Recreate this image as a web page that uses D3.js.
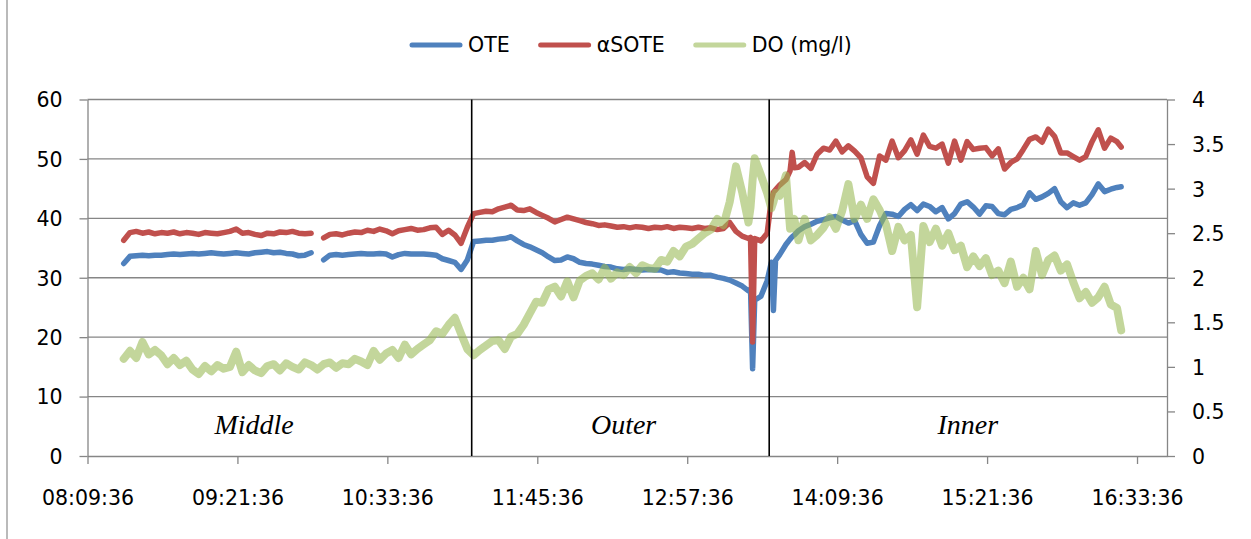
<!DOCTYPE html>
<html>
<head>
<meta charset="utf-8">
<script src="https://cdn.jsdelivr.net/npm/d3@7"></script>
<style>
  html, body { margin: 0; padding: 0; background: #ffffff; }
  svg { display: block; }
  text { font-family: "DejaVu Sans", sans-serif; fill: #000; }
</style>
</head>
<body>
<svg id="chart" width="1251" height="539"></svg>
<script>
// Logged samples (clock time)
const times = [
  "08:27","08:30","08:33","08:36","08:39","08:42","08:45","08:48","08:51","08:54",
  "08:57","09:00","09:03","09:06","09:09","09:12","09:15","09:18","09:21","09:24",
  "09:27","09:30","09:33","09:36","09:39","09:42","09:45","09:48","09:51","09:54",
  "09:57","10:00","10:03","10:06","10:09","10:12","10:15","10:18","10:21","10:24",
  "10:27","10:30","10:33","10:36","10:39","10:42","10:45","10:48","10:51","10:54",
  "10:57","11:00","11:03","11:06","11:09","11:12","11:15","11:18","11:21","11:24",
  "11:27","11:30","11:33","11:36","11:39","11:42","11:45","11:48","11:51","11:54",
  "11:57","12:00","12:03","12:06","12:09","12:12","12:15","12:18","12:21","12:24",
  "12:27","12:30","12:33","12:36","12:39","12:42","12:45","12:48","12:51","12:54",
  "12:57","13:00","13:03","13:06","13:09","13:12","13:15","13:18","13:21","13:24",
  "13:27","13:28","13:29","13:30","13:33","13:36","13:38","13:39","13:40","13:42",
  "13:45","13:47","13:48","13:49","13:51","13:54","13:57","14:00","14:03","14:06",
  "14:09","14:12","14:15","14:18","14:21","14:24","14:27","14:30","14:33","14:36",
  "14:39","14:42","14:45","14:48","14:51","14:54","14:57","15:00","15:03","15:06",
  "15:09","15:12","15:15","15:18","15:21","15:24","15:27","15:30","15:33","15:36",
  "15:39","15:42","15:45","15:48","15:51","15:54","15:57","16:00","16:03","16:06",
  "16:09","16:12","16:15","16:18","16:21","16:24","16:26"
];

// Oxygen transfer efficiency (%), left axis
const ote = [
  32.4,33.6,33.7,33.8,33.7,33.8,33.8,33.9,34.0,33.9,
  34.0,34.1,34.0,34.1,34.2,34.1,34.0,34.1,34.2,34.1,
  34.0,34.2,34.3,34.4,34.2,34.3,34.1,34.0,33.7,33.8,
  34.2,null,33.0,33.8,33.9,33.8,33.9,34.0,34.1,34.0,
  34.0,34.1,34.0,33.5,33.9,34.1,34.0,34.0,34.0,33.9,
  33.8,33.2,32.9,32.6,31.4,33.0,36.1,36.2,36.3,36.3,
  36.5,36.6,36.9,36.2,35.6,35.2,34.7,34.2,33.5,32.9,
  33.0,33.5,33.2,32.6,32.4,32.3,32.1,31.9,31.8,31.5,
  31.4,31.5,31.4,31.3,31.4,31.3,31.3,30.9,31.0,30.8,
  30.7,30.6,30.6,30.4,30.4,30.1,29.9,29.6,29.1,28.6,
  27.8,28.1,14.7,26.2,26.9,29.5,32.6,24.5,32.9,33.9,
  35.6,36.5,36.9,37.2,37.9,38.6,39.0,39.5,39.8,40.1,
  40.3,39.7,39.2,39.6,37.3,35.8,36.0,38.8,40.8,40.7,
  40.3,41.5,42.3,41.3,42.4,42.0,41.1,41.8,39.9,40.8,
  42.4,42.8,41.9,40.7,42.1,42.0,40.8,40.6,41.5,41.8,
  42.3,44.3,43.2,43.6,44.2,45.0,42.8,41.8,42.6,42.2,
  42.6,44.0,45.8,44.5,44.9,45.2,45.3
];

// Alpha-corrected standard OTE (%), left axis
const asote = [
  36.3,37.6,37.8,37.5,37.7,37.4,37.6,37.5,37.7,37.4,
  37.6,37.5,37.3,37.6,37.5,37.4,37.6,37.8,38.2,37.5,
  37.6,37.3,37.1,37.5,37.4,37.7,37.6,37.8,37.5,37.4,
  37.5,null,36.7,37.3,37.4,37.2,37.5,37.7,37.6,38.0,
  37.8,38.2,37.9,37.4,37.9,38.1,38.3,38.0,38.1,38.4,
  38.5,37.3,38.0,37.2,35.8,38.5,40.8,41.0,41.2,41.1,
  41.6,41.9,42.2,41.4,41.3,41.6,41.0,40.5,40.0,39.4,
  39.8,40.2,39.9,39.6,39.3,39.1,38.8,38.9,38.7,38.5,
  38.6,38.4,38.6,38.5,38.3,38.5,38.4,38.6,38.3,38.5,
  38.4,38.3,38.5,38.3,38.4,38.1,38.3,39.3,37.8,37.0,
  36.6,36.8,19.2,36.6,36.2,37.5,43.2,44.4,44.8,45.6,
  46.5,48.0,51.1,48.5,48.6,49.4,48.4,50.8,51.8,51.5,
  53.0,51.2,52.2,51.3,50.2,47.0,45.9,50.5,49.8,53.0,
  50.2,51.4,53.2,50.8,54.0,52.1,51.8,52.5,49.3,53.0,
  49.8,52.9,51.6,51.8,51.9,50.5,51.7,48.3,49.4,50.0,
  51.6,53.3,53.7,52.8,55.0,53.8,51.0,51.0,50.4,49.8,
  50.4,52.9,54.9,51.8,53.5,52.9,52.0
];

// Dissolved oxygen (mg/l), right axis
const dissolvedO2 = [
  1.09,1.18,1.10,1.28,1.14,1.19,1.13,1.03,1.10,1.02,
  1.07,0.97,0.92,1.01,0.95,1.02,0.98,1.00,1.17,0.94,
  1.02,0.96,0.93,1.01,1.03,0.96,1.04,1.00,0.97,1.05,
  1.02,0.97,1.03,1.05,0.99,1.04,1.03,1.09,1.06,1.02,
  1.18,1.08,1.15,1.19,1.10,1.25,1.14,1.20,1.25,1.30,
  1.40,1.37,1.47,1.55,1.37,1.20,1.13,1.19,1.24,1.29,
  1.30,1.20,1.34,1.37,1.47,1.60,1.73,1.72,1.87,1.90,
  1.79,1.96,1.78,1.97,2.02,2.05,1.98,2.11,1.99,2.06,
  2.03,2.12,2.05,2.14,2.11,2.10,2.20,2.18,2.30,2.24,
  2.35,2.38,2.44,2.50,2.54,2.66,2.59,2.85,3.25,2.96,
  2.62,2.79,3.10,3.34,3.15,2.95,2.78,2.85,2.95,2.92,
  3.15,2.55,2.62,2.66,2.42,2.66,2.42,2.48,2.56,2.68,
  2.55,2.75,3.05,2.66,2.82,2.66,2.88,2.76,2.60,2.30,
  2.57,2.42,2.48,1.67,2.58,2.40,2.55,2.36,2.50,2.31,
  2.36,2.12,2.24,2.13,2.22,2.03,2.08,1.94,2.18,1.90,
  2.00,1.87,2.30,2.03,2.20,2.25,2.08,2.15,1.95,1.77,
  1.84,1.72,1.78,1.90,1.70,1.66,1.41
];

const seriesNames = ["OTE", "\u03B1SOTE", "DO (mg/l)"];
const timeDomain = ["08:09:36", "16:48:00"];
const xTickLabels = ["08:09:36","09:21:36","10:33:36","11:45:36","12:57:36","14:09:36","15:21:36","16:33:36"];
const leftTicks = [0, 10, 20, 30, 40, 50, 60];
const rightTicks = [0, 0.5, 1, 1.5, 2, 2.5, 3, 3.5, 4];

// Diffuser zones
const zoneBounds = ["11:14:06", "13:36:58"];
const zoneNames = ["Middle", "Outer", "Inner"];
const zoneLabelTimes = ["09:29:37", "12:27:02", "15:12:21"];

// ---- layout ----
const W = 1251, H = 539;
const plot = { left: 87.5, right: 1167, top: 99.5, bottom: 456 };
const colors = { ote: "#4f81bd", asote: "#c0504d", dox: "#9bbb59", grid: "#868686" };

const parseT = s => d3.timeParse(s.length > 5 ? "%H:%M:%S" : "%H:%M")(s);

const x = d3.scaleTime()
  .domain(timeDomain.map(parseT))
  .range([plot.left, plot.right]);
const yL = d3.scaleLinear().domain([0, 60]).range([plot.bottom, plot.top]);
const yR = d3.scaleLinear().domain([0, 4]).range([plot.bottom, plot.top]);

const svg = d3.select("#chart");
svg.append("rect").attr("width", W).attr("height", H).attr("fill", "#fff");

// chart frame (left edge)
svg.append("line")
  .attr("x1", 7).attr("x2", 7).attr("y1", 0).attr("y2", H)
  .attr("stroke", "#8c8c8c").attr("stroke-width", 1.2);

// horizontal gridlines
svg.append("g").selectAll("line")
  .data(leftTicks.filter(v => v > 0))
  .join("line")
  .attr("x1", plot.left).attr("x2", plot.right)
  .attr("y1", d => yL(d)).attr("y2", d => yL(d))
  .attr("stroke", colors.grid).attr("stroke-width", 1.3);

// axes
const fontSize = 20.5;
const styleAxis = (g) => {
  g.selectAll(".domain").attr("stroke", colors.grid).attr("stroke-width", 1.3);
  g.selectAll(".tick line").attr("stroke", colors.grid).attr("stroke-width", 1.3);
  g.selectAll(".tick text").attr("font-size", fontSize).attr("font-family", "DejaVu Sans").attr("fill", "#000");
};

const gx = svg.append("g")
  .attr("transform", `translate(0,${plot.bottom})`)
  .call(d3.axisBottom(x)
    .tickValues(xTickLabels.map(parseT))
    .tickFormat(d3.timeFormat("%H:%M:%S"))
    .tickSize(8).tickSizeOuter(0));
styleAxis(gx);
gx.selectAll(".tick text").attr("y", 42).attr("dy", "0.36em");

const gl = svg.append("g")
  .attr("transform", `translate(${plot.left},0)`)
  .call(d3.axisLeft(yL).tickValues(leftTicks).tickFormat(d3.format("d")).tickSize(8).tickSizeOuter(0));
styleAxis(gl);
gl.selectAll(".tick text").attr("x", -25).attr("dy", "0.36em");

const gr = svg.append("g")
  .attr("transform", `translate(${plot.right},0)`)
  .call(d3.axisRight(yR).tickValues(rightTicks).tickFormat(d => String(d)).tickSize(8).tickSizeOuter(0));
styleAxis(gr);
gr.selectAll(".tick text").attr("x", 25).attr("dy", "0.36em");

// series
const tParsed = times.map(parseT);
const mkLine = (vals, y) => d3.line()
  .defined((d, i) => vals[i] != null)
  .x((d, i) => x(tParsed[i]))
  .y((d, i) => y(vals[i]))
  .curve(d3.curveLinear)(vals);

svg.append("path")
  .attr("d", mkLine(ote, yL))
  .attr("fill", "none").attr("stroke", colors.ote).attr("stroke-width", 5.5)
  .attr("stroke-linejoin", "round").attr("stroke-linecap", "round");

svg.append("path")
  .attr("d", mkLine(asote, yL))
  .attr("fill", "none").attr("stroke", colors.asote).attr("stroke-width", 5.5)
  .attr("stroke-linejoin", "round").attr("stroke-linecap", "round");

svg.append("path")
  .attr("d", mkLine(dissolvedO2, yR))
  .attr("fill", "none").attr("stroke", colors.dox).attr("stroke-opacity", 0.6)
  .attr("stroke-width", 8)
  .attr("stroke-linejoin", "round").attr("stroke-linecap", "round");

// zone separators
svg.append("g").selectAll("line")
  .data(zoneBounds)
  .join("line")
  .attr("x1", d => x(parseT(d))).attr("x2", d => x(parseT(d)))
  .attr("y1", plot.top).attr("y2", plot.bottom)
  .attr("stroke", "#000").attr("stroke-width", 1.6);

// zone names
svg.append("g").selectAll("text")
  .data(zoneNames)
  .join("text")
  .attr("x", (d, i) => x(parseT(zoneLabelTimes[i])))
  .attr("y", yL(3.65))
  .attr("text-anchor", "middle")
  .style("font-family", '"Liberation Serif", "Times New Roman", serif')
  .style("font-style", "italic")
  .attr("font-size", 28)
  .text(d => d);

// legend
const legendColors = [colors.ote, colors.asote, colors.dox];
const legendOpacity = [1, 1, 0.6];
const legendY = 45;
let lx = 410;
seriesNames.forEach((name, i) => {
  svg.append("line")
    .attr("x1", lx + 2).attr("x2", lx + 50)
    .attr("y1", legendY).attr("y2", legendY)
    .attr("stroke", legendColors[i]).attr("stroke-opacity", legendOpacity[i])
    .attr("stroke-width", 5).attr("stroke-linecap", "round");
  const t = svg.append("text")
    .attr("x", lx + 58).attr("y", legendY).attr("dy", "0.36em")
    .attr("font-size", fontSize)
    .text(name);
  lx = lx + 58 + t.node().getComputedTextLength() + 29;
});
</script>
</body>
</html>
